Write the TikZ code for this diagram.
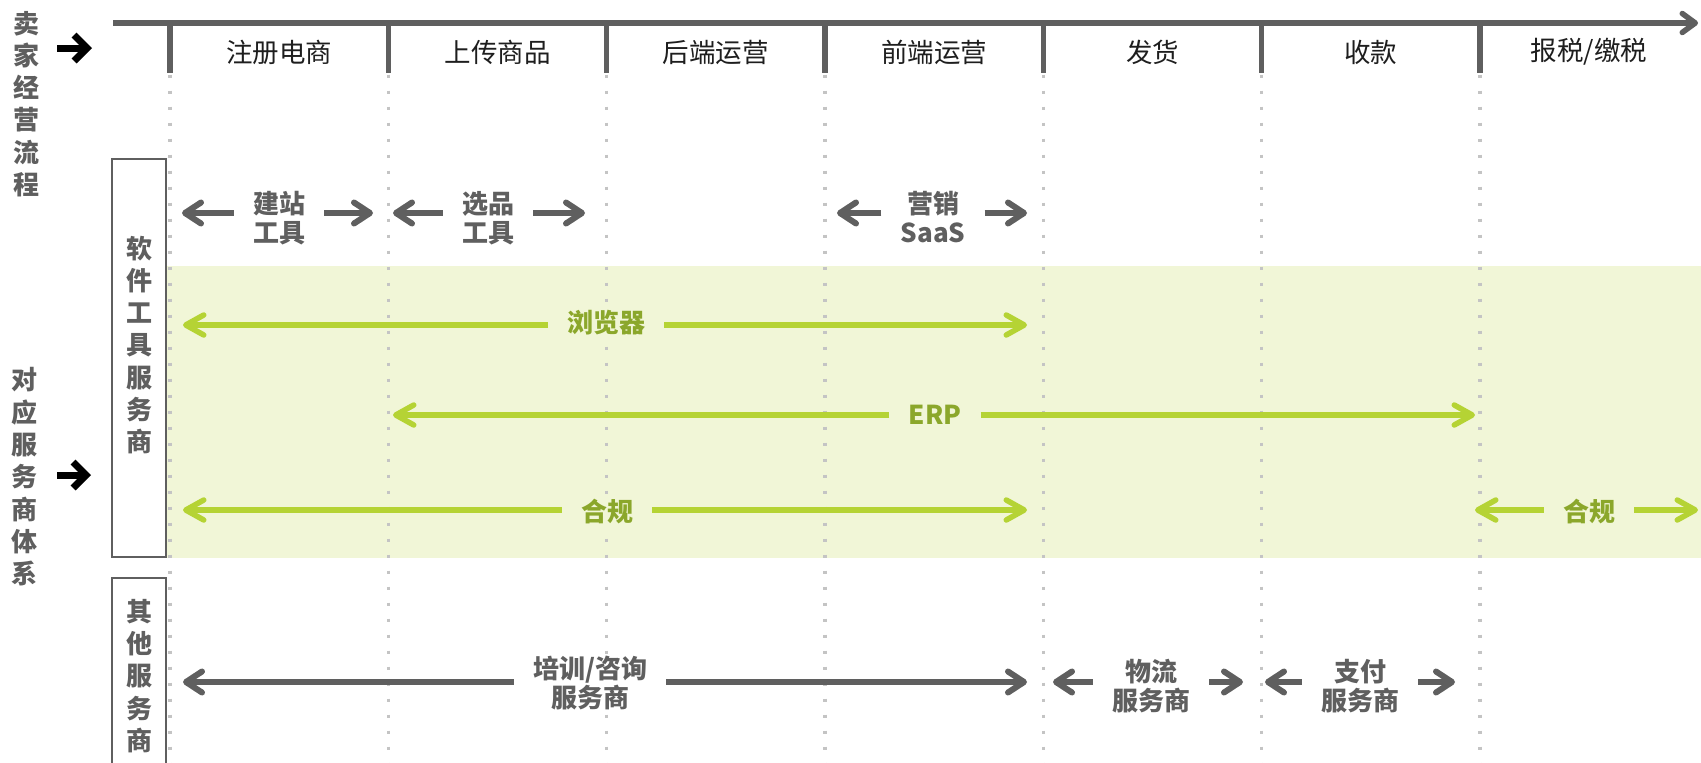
\documentclass[tikz,border=0pt]{standalone}
\usepackage{fontspec}
\setmainfont{Noto Sans CJK SC}
\newfontfamily\cjkbold{Noto Sans CJK SC Black}
\usetikzlibrary{arrows.meta}
\definecolor{dg}{HTML}{5F5F5F}
\definecolor{dotc}{HTML}{C4C4C4}
\definecolor{gline}{HTML}{B5D334}
\definecolor{gtext}{HTML}{8BA72B}
\definecolor{band}{HTML}{F1F6D7}
\definecolor{stagec}{HTML}{1E1E1E}
\begin{document}
\begin{tikzpicture}[x=1pt,y=-1pt,
  stagelbl/.style={font=\fontsize{26.5}{30}\selectfont, text=stagec, inner sep=0pt},
  vtext/.style={font=\cjkbold\fontsize{26}{32.3}\selectfont, text=dg, align=center, inner sep=0pt},
  glabel/.style={font=\cjkbold\fontsize{26}{29}\selectfont, text=dg, align=center, fill=white, inner xsep=19pt, inner ysep=2pt},
  grlabel/.style={font=\cjkbold\fontsize{26}{29}\selectfont, text=gtext, align=center, fill=band, inner xsep=19pt, inner ysep=2pt},
  garrow/.style={draw=dg, line width=6pt, -{Straight Barb[length=16pt,width=21pt,round]}},
  grarrow/.style={draw=gline, line width=5.5pt, -{Straight Barb[length=18pt,width=20pt,round]}},
  barrow/.style={draw=black, line width=7pt, -{Straight Barb[length=13pt,width=26pt]}},
  dotline/.style={draw=dotc, line width=3.5pt, dash pattern=on 3.5pt off 12.5pt},
  boxline/.style={draw=dg, line width=2.5pt}
]
\useasboundingbox (0,0) rectangle (1701,763);
\fill[white] (0,0) rectangle (1701,763);
% green band
\fill[band] (167,266) rectangle (1701,558);
% dotted columns
\foreach \x in {170,388.3,606.7,825,1043.3,1261.7,1480} {
  \draw[dotline] (\x,74.5) -- (\x,763);
}
% timeline
\coordinate (tl0) at (113,23);
\coordinate (tl1) at (1698,23);
\draw[draw=dg, line width=5.5pt, -{Straight Barb[length=13pt,width=19pt,round]}] (tl0) -- (tl1);
\foreach \x in {170,388.3,606.7,825,1043.3,1261.7,1480} {
  \draw[draw=dg, line width=5.5pt] (\x,21) -- (\x,73);
}
% stage labels
\node[stagelbl] (s1) at (279.2,52) {注册电商};
\node[stagelbl] (s2) at (497.5,52) {上传商品};
\node[stagelbl] (s3) at (715.8,52) {后端运营};
\node[stagelbl] (s4) at (934.2,52) {前端运营};
\node[stagelbl] (s5) at (1152.5,52) {发货};
\node[stagelbl] (s6) at (1370.8,52) {收款};
\node[stagelbl] (s7) at (1589,52) {报税/缴税};
% left headings
\node[vtext] (h1) at (26,104) {卖\\家\\经\\营\\流\\程};
\node[vtext] (h2) at (25,477) {对\\应\\服\\务\\商\\体\\系};
\coordinate (ba1s) at (57,48); \coordinate (ba1e) at (92,48);
\coordinate (ba2s) at (57,475); \coordinate (ba2e) at (91,475);
\draw[barrow] (ba1s) -- (ba1e);
\draw[barrow] (ba2s) -- (ba2e);
% category boxes
\draw[boxline] (112,159) rectangle (166,557);
\draw[boxline] (112,775) -- (112,578) -- (166,578) -- (166,775);
\node[vtext] (c1) at (139,345) {软\\件\\工\\具\\服\\务\\商};
\node[vtext] (c2) at (139,676) {其\\他\\服\\务\\商};
% row 1
\coordinate (a1l) at (182,213); \coordinate (a1r) at (373,213);
\coordinate (a2l) at (393,213); \coordinate (a2r) at (585,213);
\coordinate (a3l) at (837,213); \coordinate (a3r) at (1027,213);
\node[glabel] (l1) at (279,218.5) {建站\\工具};
\node[glabel] (l2) at (488,218.5) {选品\\工具};
\node[glabel] (l3) at (933,217.5) {营销\\SaaS};
\draw[garrow] (l1.west |- a1l) -- (a1l);
\draw[garrow] (l1.east |- a1r) -- (a1r);
\draw[garrow] (l2.west |- a2l) -- (a2l);
\draw[garrow] (l2.east |- a2r) -- (a2r);
\draw[garrow] (l3.west |- a3l) -- (a3l);
\draw[garrow] (l3.east |- a3r) -- (a3r);
% green rows
\coordinate (b1l) at (183,325); \coordinate (b1r) at (1027,325);
\coordinate (b2l) at (393,415); \coordinate (b2r) at (1475,415);
\coordinate (b3l) at (183,510); \coordinate (b3r) at (1027,510);
\coordinate (b4l) at (1475,510); \coordinate (b4r) at (1698,510);
\node[grlabel] (g1) at (606,323) {浏览器};
\node[grlabel] (g2) at (935,415) {ERP};
\node[grlabel] (g3) at (607,512) {合规};
\node[grlabel] (g4) at (1589,512) {合规};
\draw[grarrow] (g1.west |- b1l) -- (b1l);
\draw[grarrow] (g1.east |- b1r) -- (b1r);
\draw[grarrow] (g2.west |- b2l) -- (b2l);
\draw[grarrow] (g2.east |- b2r) -- (b2r);
\draw[grarrow] (g3.west |- b3l) -- (b3l);
\draw[grarrow] (g3.east |- b3r) -- (b3r);
\draw[grarrow] (g4.west |- b4l) -- (b4l);
\draw[grarrow] (g4.east |- b4r) -- (b4r);
% bottom row
\coordinate (c1l) at (183,682); \coordinate (c1r) at (1027,682);
\coordinate (c2l) at (1053,682); \coordinate (c2r) at (1243,682);
\coordinate (c3l) at (1265,682); \coordinate (c3r) at (1455,682);
\node[glabel] (o1) at (590,683) {培训/咨询\\服务商};
\node[glabel] (o2) at (1151,686) {物流\\服务商};
\node[glabel] (o3) at (1360,686) {支付\\服务商};
\draw[garrow] (o1.west |- c1l) -- (c1l);
\draw[garrow] (o1.east |- c1r) -- (c1r);
\draw[garrow] (o2.west |- c2l) -- (c2l);
\draw[garrow] (o2.east |- c2r) -- (c2r);
\draw[garrow] (o3.west |- c3l) -- (c3l);
\draw[garrow] (o3.east |- c3r) -- (c3r);
\end{tikzpicture}
\end{document}
